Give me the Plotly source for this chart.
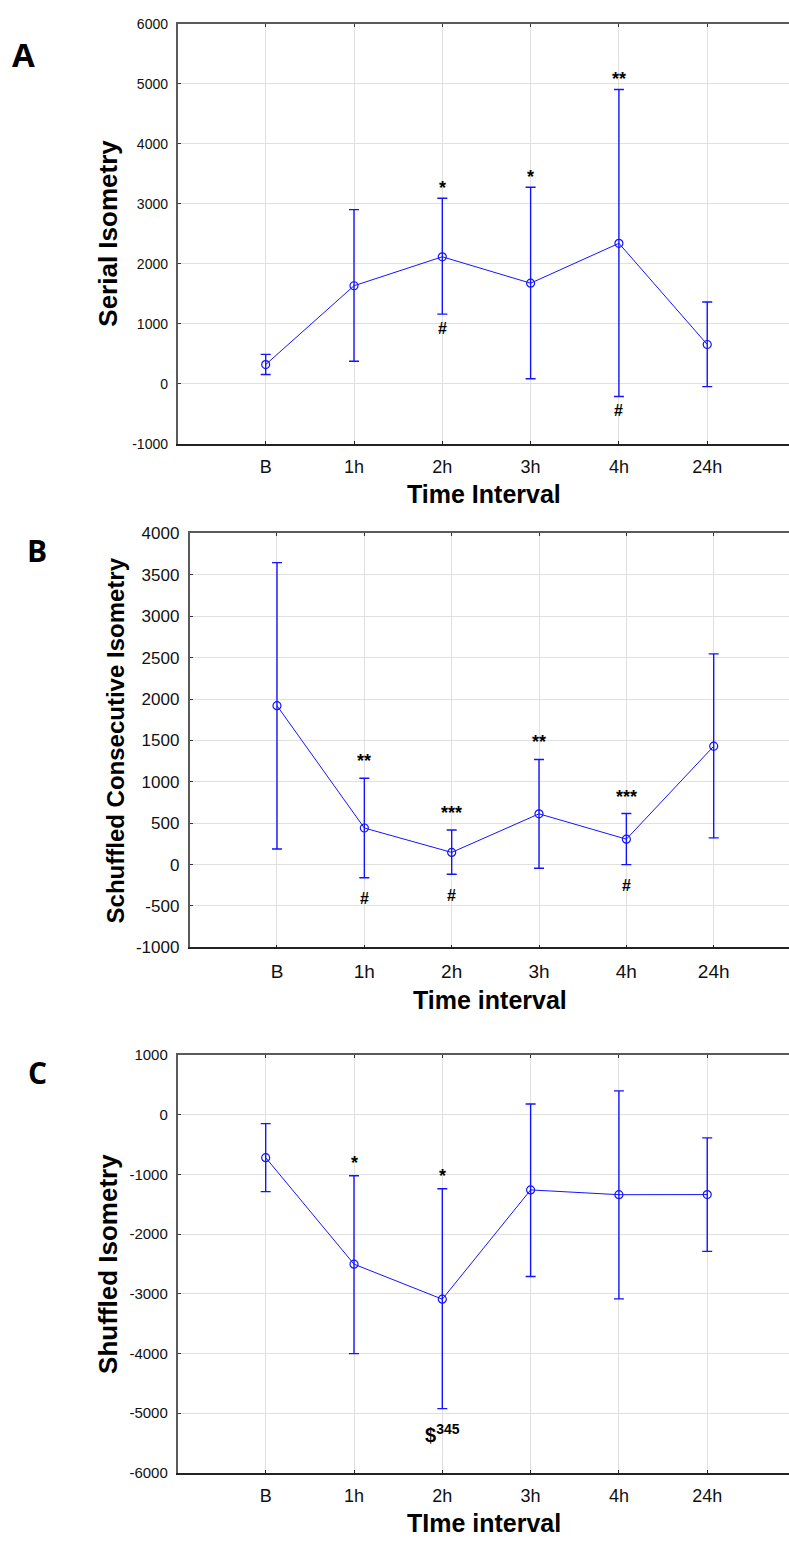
import plotly.graph_objects as go

categories = ["B", "1h", "2h", "3h", "4h", "24h"]

# Panel A: Serial Isometry
serial_mean = [318, 1632, 2115, 1675, 2340, 653]
serial_upper = [488, 2901, 3092, 3274, 4905, 1362]
serial_lower = [153, 373, 1159, 82, -214, -49]
serial_top_marks = ["", "", "*", "*", "**", ""]
serial_bottom_marks = ["", "", "#", "", "#", ""]
serial_yticks = [-1000, 0, 1000, 2000, 3000, 4000, 5000, 6000]

# Panel B: Schuffled Consecutive Isometry
consec_mean = [1920, 442, 147, 613, 307, 1430]
consec_upper = [3648, 1043, 418, 1270, 617, 2545]
consec_lower = [188, -159, -116, -44, 0, 323]
consec_top_marks = ["", "**", "***", "**", "***", ""]
consec_bottom_marks = ["", "#", "#", "", "#", ""]
consec_yticks = [-1000, -500, 0, 500, 1000, 1500, 2000, 2500, 3000, 3500, 4000]

# Panel C: Shuffled Isometry
shuf_mean = [-720, -2504, -3091, -1260, -1340, -1338]
shuf_upper = [-149, -1023, -1240, 180, 400, -388]
shuf_lower = [-1289, -4003, -4925, -2710, -3085, -2289]
shuf_top_marks = ["", "*", "*", "", "", ""]
shuf_bottom_marks = ["", "", "$<sup>345</sup>", "", "", ""]
shuf_yticks = [-6000, -5000, -4000, -3000, -2000, -1000, 0, 1000]

W, H = 789, 1550
BLUE = "#1414ff"
FONT = "Liberation Sans, Arial, sans-serif"

panels = [
    dict(mean=serial_mean, up=serial_upper, lo=serial_lower, top=serial_top_marks, bot=serial_bottom_marks,
         yt=serial_yticks,
         xdom=[178 / W, 1], ydom=[1 - 440 / H, 1 - 15 / H], xr=[-0.993, 5.926], yr=[-1000, 6000],
         ytf=14, xtf=18, ytitle="Serial Isometry", ytsize=26, ytx=108, xtitle="Time Interval", xty=491,
         label="A", lx=23, ly=46, lsize=33, tshift=10, bshift=-14, bsize=16),
    dict(mean=consec_mean, up=consec_upper, lo=consec_lower, top=consec_top_marks, bot=consec_bottom_marks,
         yt=consec_yticks,
         xdom=[190 / W, 1], ydom=[1 - 950 / H, 1 - 531 / H], xr=[-0.996, 5.862], yr=[-1000, 4000],
         ytf=17, xtf=19, ytitle="Schuffled Consecutive Isometry", ytsize=24, ytx=115, xtitle="Time interval", xty=1003,
         label="B", lx=37, ly=548, lsize=30, tshift=17, bshift=-21, bsize=16),
    dict(mean=shuf_mean, up=shuf_upper, lo=shuf_lower, top=shuf_top_marks, bot=shuf_bottom_marks,
         yt=shuf_yticks,
         xdom=[178 / W, 1], ydom=[1 - 1482 / H, 1 - 1059 / H], xr=[-0.993, 5.926], yr=[-6000, 1000],
         ytf=15, xtf=18, ytitle="Shuffled Isometry", ytsize=26, ytx=108, xtitle="TIme interval", xty=1533,
         label="C", lx=37, ly=1077, lsize=30, tshift=13, bshift=-25, bsize=20),
]

fig = go.Figure()
layout = dict(width=W, height=H, autosize=False, margin=dict(l=0, r=0, t=0, b=0),
              paper_bgcolor="white", plot_bgcolor="white", showlegend=False)
annotations = []
xs = list(range(len(categories)))

for i, p in enumerate(panels):
    n = i + 1
    xa = "x" if n == 1 else f"x{n}"
    ya = "y" if n == 1 else f"y{n}"
    top_n = n + 3
    fig.add_trace(go.Scatter(
        x=xs, y=p["mean"], xaxis=xa, yaxis=ya, mode="lines+markers",
        line=dict(color=BLUE, width=1),
        marker=dict(symbol="circle-open", size=8, color=BLUE, line=dict(width=1.2, color=BLUE)),
        error_y=dict(type="data", symmetric=False,
                     array=[u - m for u, m in zip(p["up"], p["mean"])],
                     arrayminus=[m - l for m, l in zip(p["mean"], p["lo"])],
                     color=BLUE, thickness=1.4, width=5),
        hoverinfo="skip"))
    # empty trace so the top overlay axis (frame line + ticks) is drawn
    fig.add_trace(go.Scatter(x=[None], y=[None], xaxis=f"x{top_n}", yaxis=ya, showlegend=False, hoverinfo="skip"))

    layout[f"xaxis{'' if n == 1 else n}"] = dict(
        domain=p["xdom"], anchor=ya, range=p["xr"], tickmode="array", tickvals=xs, ticktext=categories,
        showgrid=True, gridcolor="#e0e0e0", gridwidth=1, zeroline=False,
        showline=True, linecolor="#222222", linewidth=1.6, ticks="inside", ticklen=3, tickcolor="#222222",
        tickfont=dict(family=FONT, size=p["xtf"], color="#111111"), ticklabelstandoff=6)
    layout[f"xaxis{top_n}"] = dict(
        overlaying=xa, side="top", anchor=ya, range=p["xr"], tickmode="array", tickvals=xs,
        showticklabels=False, showgrid=False, zeroline=False,
        showline=True, linecolor="#5a5a5a", linewidth=2, ticks="inside", ticklen=3, tickcolor="#333333")
    layout[f"yaxis{'' if n == 1 else n}"] = dict(
        domain=p["ydom"], anchor=xa, range=p["yr"], tickmode="array", tickvals=p["yt"],
        ticktext=[str(v) for v in p["yt"]],
        showgrid=True, gridcolor="#e0e0e0", gridwidth=1, zeroline=False,
        showline=True, linecolor="#5a5a5a", linewidth=2.4, ticks="inside", ticklen=3, tickcolor="#333333",
        tickfont=dict(family=FONT, size=p["ytf"], color="#111111"), ticklabelstandoff=5)

    yc = (p["ydom"][0] + p["ydom"][1]) / 2
    xc = (p["xdom"][0] + p["xdom"][1]) / 2
    annotations.append(dict(text=f"<b>{p['ytitle']}</b>", xref="paper", yref="paper", x=p["ytx"] / W, y=yc,
                            xanchor="center", yanchor="middle", textangle=-90, showarrow=False,
                            font=dict(family=FONT, size=p["ytsize"], color="#000000")))
    annotations.append(dict(text=f"<b>{p['xtitle']}</b>", xref="paper", yref="paper", x=xc, y=1 - p["xty"] / H,
                            xanchor="center", yanchor="middle", showarrow=False,
                            font=dict(family=FONT, size=25, color="#000000")))
    annotations.append(dict(text=f"<b>{p['label']}</b>", xref="paper", yref="paper", x=p["lx"] / W, y=1 - p["ly"] / H,
                            xanchor="center", yanchor="middle", showarrow=False,
                            font=dict(family="Open Sans, sans-serif", size=p["lsize"], color="#000000")))
    for k in xs:
        if p["top"][k]:
            annotations.append(dict(text=f"<b>{p['top'][k]}</b>", xref=xa, yref=ya, x=k, y=p["up"][k],
                                    yshift=p["tshift"], xanchor="center", yanchor="middle", showarrow=False,
                                    font=dict(family=FONT, size=18, color="#000000")))
        if p["bot"][k]:
            annotations.append(dict(text=f"<b>{p['bot'][k]}</b>", xref=xa, yref=ya, x=k, y=p["lo"][k],
                                    yshift=p["bshift"], xanchor="center", yanchor="middle", showarrow=False,
                                    font=dict(family=FONT, size=p["bsize"], color="#000000")))

layout["annotations"] = annotations
fig.update_layout(**layout)
fig.write_html("out.html", config={"displayModeBar": False},
               post_script="document.body.style.margin='0';document.body.style.overflow='hidden';")
